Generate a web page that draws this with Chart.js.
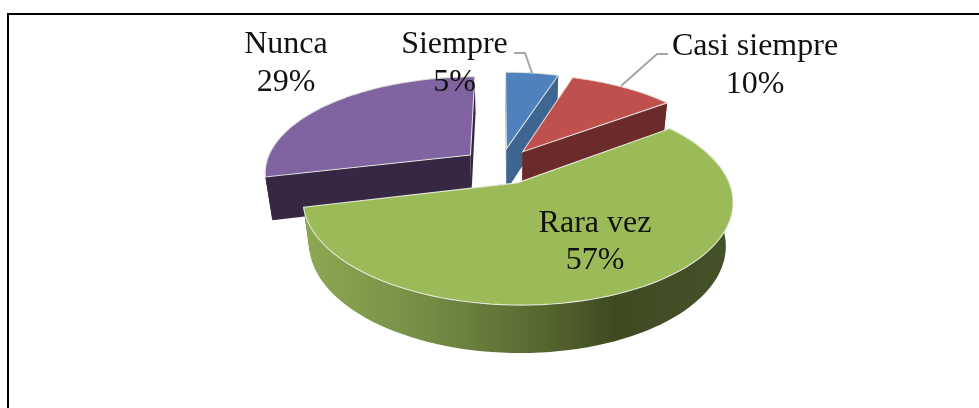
<!DOCTYPE html>
<html>
<head>
<meta charset="utf-8">
<style>
html,body{margin:0;padding:0;background:#fff;width:979px;height:408px;overflow:hidden}
canvas{display:block}
</style>
<script src="https://cdn.jsdelivr.net/npm/chart.js@4"></script>
</head>
<body>
<canvas id="c" width="979" height="408"></canvas>
<script>
const categories = ["Siempre", "Casi siempre", "Rara vez", "Nunca"];
const shares = [5, 10, 57, 29];
const explode = [19, 19, 19, 19];
const topColors = ["#4f81bd", "#c0504d", "#9bbb59", "#8064a2"];
const wallColors = ["#3e6690", "#6b2b2b", "#3f4a21", "#372742"];

const view = {cx: 500.5, cy: 166, r: 205.5, back: 95, persist: 0.17, depth: 44, sink: 0.03};
const labelAnchors = [[454.5, 53, 91], [755, 55, 92.5], [595, 232, 269], [286, 53, 91]];
const leaders = [
  [[514, 53], [525, 53], [532, 73]],
  [[668, 54], [657, 54], [621, 86]]
];

function project(u, v, low) {
  const w = 1 - view.persist * v + (low ? view.sink : 0);
  return [view.cx + view.r * u / w,
          view.cy + (view.back * v + (low ? view.depth : 0)) / w];
}
function slicePath(arc, offset) {
  const e = offset / arc.outerRadius;
  const mid = (arc.startAngle + arc.endAngle) / 2;
  const ox = Math.cos(mid) * e, oy = Math.sin(mid) * e;
  const pts = [];
  const n = 90;
  for (let i = 0; i <= n; i++) {
    const a = arc.startAngle + (arc.endAngle - arc.startAngle) * i / n;
    pts.push([ox + Math.cos(a), oy + Math.sin(a)]);
  }
  return {tip: [ox, oy], rim: pts};
}
function poly(ctx, pts) {
  ctx.beginPath();
  pts.forEach((p, i) => i ? ctx.lineTo(p[0], p[1]) : ctx.moveTo(p[0], p[1]));
  ctx.closePath();
}
const pie3d = {
  id: "pie3d",
  beforeDatasetDraw(chart) {
    const ctx = chart.ctx;
    const arcs = chart.getDatasetMeta(0).data;
    ctx.save();
    [3, 0, 1, 2].forEach(i => {
      const arc = arcs[i];
      const s = slicePath(arc, arc.options.offset);
      const first = s.rim[0], last = s.rim[s.rim.length - 1];
      const t = s.tip;
      ctx.fillStyle = wallColors[i];
      poly(ctx, [project(t[0], t[1], 0), project(first[0], first[1], 0), project(first[0], first[1], 1), project(t[0], t[1], 1)]);
      ctx.fill();
      poly(ctx, [project(t[0], t[1], 0), project(last[0], last[1], 0), project(last[0], last[1], 1), project(t[0], t[1], 1)]);
      ctx.fill();
      const wall = s.rim.map(p => project(p[0], p[1], 0))
        .concat(s.rim.slice().reverse().map(p => project(p[0], p[1], 1)));
      if (i === 2) {
        const g = ctx.createLinearGradient(303, 0, 735, 0);
        g.addColorStop(0, "#8ea953");
        g.addColorStop(0.3, "#738b45");
        g.addColorStop(0.55, "#57682f");
        g.addColorStop(0.72, "#3f4a21");
        g.addColorStop(1, "#45522a");
        ctx.fillStyle = g;
      }
      poly(ctx, wall);
      ctx.fill();
      const top = [project(t[0], t[1], 0)].concat(s.rim.map(p => project(p[0], p[1], 0)));
      ctx.fillStyle = topColors[i];
      poly(ctx, top);
      ctx.fill();
      ctx.strokeStyle = "rgba(235,238,228,0.9)";
      ctx.lineWidth = 1.1;
      ctx.stroke();
    });
    ctx.restore();
    return false;
  },
  afterDatasetsDraw(chart) {
    const ctx = chart.ctx;
    ctx.save();
    ctx.strokeStyle = "#000";
    ctx.lineWidth = 2;
    ctx.beginPath();
    ctx.moveTo(8, 408);
    ctx.lineTo(8, 14);
    ctx.lineTo(979, 14);
    ctx.stroke();
    ctx.strokeStyle = "#a6a6a6";
    ctx.lineWidth = 2;
    leaders.forEach(l => {
      ctx.beginPath();
      l.forEach((p, i) => i ? ctx.lineTo(p[0], p[1]) : ctx.moveTo(p[0], p[1]));
      ctx.stroke();
    });
    ctx.fillStyle = "#111";
    ctx.font = '32px "Liberation Serif"';
    ctx.textAlign = "center";
    ctx.textBaseline = "alphabetic";
    categories.forEach((c, i) => {
      const a = labelAnchors[i];
      ctx.fillText(c, a[0], a[1]);
      ctx.fillText(shares[i] + "%", a[0], a[2]);
    });
    ctx.restore();
  }
};
new Chart(document.getElementById("c"), {
  type: "pie",
  data: {
    labels: categories,
    datasets: [{
      data: shares,
      backgroundColor: topColors,
      offset: explode,
      borderWidth: 0,
      radius: 100
    }]
  },
  options: {
    responsive: false,
    animation: false,
    plugins: {legend: {display: false}, tooltip: {enabled: false}}
  },
  plugins: [pie3d]
});
</script>
</body>
</html>
